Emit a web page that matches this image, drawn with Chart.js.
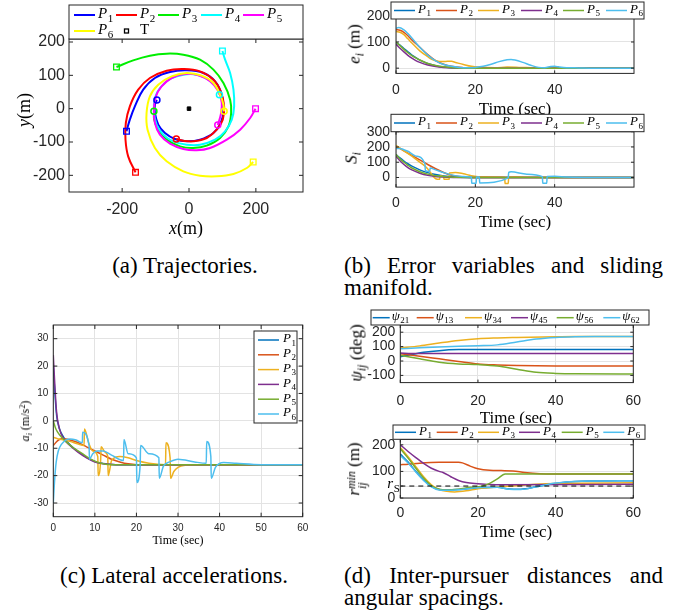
<!DOCTYPE html>
<html>
<head>
<meta charset="utf-8">
<script src="https://cdn.jsdelivr.net/npm/chart.js@4.4.1/dist/chart.umd.min.js"></script>
<style>
  body { margin: 0; background: #fff; width: 683px; height: 615px; position: relative; overflow: hidden; }
  canvas { position: absolute; }
  .lbl { position: absolute; white-space: nowrap; transform: translate(-50%, -50%); font-family: "Liberation Serif", serif; line-height: 1; color: #000; }
  .rot { transform: translate(-50%, -50%) rotate(-90deg); }
  .lbl sub { font-size: 0.7em; vertical-align: -0.3em; line-height: 0; }
  .lbl sup { font-size: 0.7em; vertical-align: 0.45em; line-height: 0; }
  .stack { display: inline-block; font-size: 0.7em; line-height: 0.85; vertical-align: -0.55em; font-style: italic; text-align: left; }
  .cap { position: absolute; font-family: "Liberation Serif", serif; font-size: 23px; line-height: 22px; color: #000; }
  .just { text-align: justify; }
</style>
</head>
<body>
<div class="cap" style="left:85px;top:255px;width:200px;text-align:center">(a) Trajectories.</div>
<div class="cap just" style="left:344px;top:255px;width:319px">(b) Error variables and sliding manifold.</div>
<div class="cap" style="left:34px;top:565px;width:280px;text-align:center">(c) Lateral accelerations.</div>
<div class="cap just" style="left:344px;top:565px;width:319px">(d) Inter-pursuer distances and angular spacings.</div>
<script>
Chart.defaults.font.family = '"Liberation Sans", Arial, sans-serif';
Chart.defaults.color = '#262626';

// ---------- (a) trajectories, metres
const p1X = [-187, -177, -162, -137, -102, -57, -7, 43, 78, 98, 103, 95, 73, 33, -7, -42, -72, -92, -102, -102, -96];
const p1Y = [-68, -33, 7, 57, 92, 110, 115, 107, 82, 42, -3, -43, -73, -93, -98, -91, -73, -48, -13, 12, 26];
const p2X = [-160, -182, -190, -189, -177, -152, -117, -67, -17, 33, 73, 95, 105, 101, 83, 53, 13, -17, -38];
const p2Y = [-191, -143, -93, -43, 7, 57, 92, 114, 119, 112, 87, 52, 7, -33, -63, -88, -98, -96, -91];
const p3X = [-217, -167, -117, -67, -17, 33, 73, 103, 123, 126, 118, 93, 53, 13, -27, -67, -92, -104, -105];
const p3Y = [125, 145, 159, 165, 162, 147, 117, 77, 27, -13, -53, -88, -111, -118, -113, -93, -63, -33, -8];
const p4X = [100, 108, 123, 133, 135, 128, 108, 78, 33, -7, -47, -77, -97, -105, -102, -87, -57, -17, 23, 58, 83, 91];
const p4Y = [173, 147, 107, 57, 7, -33, -68, -93, -108, -108, -98, -78, -48, -8, 32, 62, 89, 102, 102, 87, 62, 42];
const p5X = [199, 183, 153, 113, 63, 23, -17, -57, -87, -102, -105, -99, -82, -52, -12, 28, 63, 88, 98, 95, 86];
const p5Y = [0, -28, -63, -93, -118, -125, -121, -105, -78, -43, -3, 37, 67, 92, 104, 100, 82, 52, 17, -18, -49];
const p6X = [192, 173, 133, 83, 33, -17, -67, -102, -124, -127, -117, -92, -52, -7, 38, 73, 93, 103, 105];
const p6Y = [-160, -178, -196, -203, -201, -188, -158, -118, -63, -13, 37, 72, 97, 107, 99, 77, 42, 12, -8];
const targetX = [0];
const targetY = [0];
const trajX = [p1X, p2X, p3X, p4X, p5X, p6X];
const trajY = [p1Y, p2Y, p3Y, p4Y, p5Y, p6Y];
const trajColors = ['#0000ff', '#ff0000', '#00ee00', '#00ffff', '#ff00ff', '#ffff00'];
const ticksAx = [-200, 0, 200];
const ticksAy = [-200, -100, 0, 100, 200];

// ---------- (b) error variables e_i (m)
const eT1 = [0, 1, 2, 3, 4, 5, 6, 7, 8, 10, 12, 15, 20, 60];
const eV1 = [98, 88, 75, 62, 50, 40, 31, 24, 18, 9, 4, 1, 0, 0];
const eT2 = [0, 1, 2, 3, 4, 6, 8, 10, 12, 14, 17, 20, 60];
const eV2 = [147, 145, 137, 124, 108, 80, 52, 29, 15, 7, 2, 0, 0];
const eT3 = [0, 1, 2, 3, 4, 6, 8, 9, 10, 11, 12, 13, 14, 15, 17, 19, 21, 25, 28, 31, 35, 40, 60];
const eV3 = [140, 137, 128, 112, 96, 66, 44, 34, 28, 25, 25, 26, 26, 22, 14, 7, 4, 2, 4, 3, 1, 0, 0];
const eT4 = [0, 1, 2, 3, 4, 5, 6, 8, 10, 12, 15, 20, 60];
const eV4 = [92, 76, 62, 49, 38, 29, 22, 12, 6, 3, 1, 0, 0];
const eT5 = [0, 1, 2, 3, 4, 5, 6, 8, 10, 12, 15, 20, 60];
const eV5 = [100, 86, 72, 59, 48, 39, 31, 18, 10, 5, 1, 0, 0];
const eT6 = [0, 0.7, 2, 3, 4, 6, 8, 10, 12, 14, 16, 18, 20, 22, 24, 26, 28, 29, 30, 32, 34, 36, 37.5, 39, 40, 41, 43, 46, 50, 60];
const eV6 = [152, 155, 146, 132, 115, 80, 50, 28, 14, 7, 3, 2, 3, 7, 15, 25, 32, 33, 31, 22, 11, 3, 2, 6, 7, 5, 2, 1, 0, 0];

// ---------- (b) sliding manifold S_i
const sT1 = [0, 1, 2, 3, 4, 6, 8, 10, 12, 15, 20, 60];
const sV1 = [150, 128, 108, 90, 74, 50, 32, 19, 10, 3, 0, 0];
const sT2 = [0, 1, 2, 3, 4, 6, 8, 10, 12, 14, 16, 18, 20, 60];
const sV2 = [200, 190, 175, 160, 145, 115, 85, 57, 33, 15, 6, 2, 0, 0];
const sT3 = [0, 2, 4, 6, 7.5, 8.5, 9.3, 10, 11, 11.1, 12, 12.1, 13.4, 13.5, 15, 17, 19, 22, 27.4, 27.5, 28.3, 28.4, 30, 33, 40, 60];
const sV3 = [210, 175, 140, 100, 70, 40, 10, -8, -12, 12, 5, -12, -12, 30, 33, 24, 12, 4, 2, -40, -40, 3, 5, 2, 0, 0];
const sT4 = [0, 1, 2, 3, 4, 6, 8, 10, 12, 15, 60];
const sV4 = [140, 110, 85, 65, 50, 28, 14, 7, 3, 0, 0];
const sT5 = [0, 1, 2, 3, 4, 6, 8, 10, 12, 15, 20, 60];
const sV5 = [150, 122, 100, 80, 62, 38, 22, 12, 6, 1, 0, 0];
const sT6 = [0, 1, 2, 3, 5, 7.3, 7.4, 8.5, 8.6, 10, 12, 14, 17, 19, 19.1, 20.2, 20.3, 21, 21.1, 28.3, 28.4, 29, 33, 36.9, 37, 38, 38.1, 40, 43, 50, 60];
const sV6 = [190, 190, 182, 172, 140, 90, 45, 40, 62, 50, 32, 17, 6, 3, -38, -38, 3, 3, -36, -3, 34, 37, 22, 6, -38, -38, 6, 8, 3, 0, 0];

// ---------- (c) lateral accelerations a_i (m/s^2)
const aT1 = [0, 0.3, 0.8, 1.5, 2.5, 4, 6, 8, 10, 12, 15, 60];
const aV1 = [20, 12, 2, -3, -6, -8.7, -11.2, -13.3, -14.8, -15.6, -16, -16];
const aT2 = [0, 1, 2, 3, 4, 6, 8, 10, 12, 14, 16, 18, 20, 60];
const aV2 = [-9, -7.3, -6.5, -6.6, -7, -8, -9.5, -11, -12.5, -14, -15, -15.7, -16, -16];
const aT3 = [0, 1, 2, 4, 6, 7.4, 7.5, 8.5, 9.5, 10.7, 10.8, 11.4, 11.5, 12.5, 13.1, 13.2, 13.8, 14, 16, 18, 20, 23, 27, 27.1, 28.1, 28.2, 29, 30, 32, 35, 60];
const aV3 = [-6, -6.5, -6.8, -7.5, -8.5, -9, -3, -8, -11, -13, -20, -14, -9.5, -11.5, -13, -20, -16, -14.5, -13, -13.5, -14.5, -15.5, -16, -8, -13.5, -21, -18.5, -17, -16.2, -16, -16];
const aT4 = [0, 0.3, 0.8, 1.5, 2.5, 4, 6, 8, 10, 12, 15, 60];
const aV4 = [24, 15, 3, -3, -6.5, -9, -11.5, -13.5, -15, -15.7, -16, -16];
const aT5 = [0, 0.5, 1, 2, 3, 5, 7, 9, 11, 14, 60];
const aV5 = [0, -2.5, -4, -6, -7.5, -10, -12, -14, -15.3, -16, -16];
const aT6 = [0, 0.3, 0.7, 1.2, 2, 3, 4, 5.5, 7, 7.05, 8.6, 8.7, 9.5, 10.5, 12, 14, 16.9, 17, 18, 20, 20.1, 20.9, 21, 23, 25.4, 25.5, 26.5, 28, 30, 34, 36.8, 36.9, 37.9, 38, 39, 41, 44, 50, 60];
const aV6 = [-30, -22, -15, -11, -8.5, -7, -6.6, -7, -8, -4.2, -9, -14, -12, -11, -11, -12.5, -14.5, -6.8, -12, -13.5, -22.5, -16, -9, -12, -13.5, -21, -16.5, -15, -14, -15, -15.5, -7.5, -13, -21, -17, -15.2, -15.5, -16, -16];

// ---------- (d) angular spacings psi_ij (deg)
const psiT21 = [0, 3, 6, 10, 15, 20, 60];
const psiV21 = [30, 45, 60, 72, 79, 80, 80];
const psiT13 = [0, 5, 10, 15, 20, 25, 30, 40, 60];
const psiV13 = [50, 33, 15, -3, -20, -27, -31, -34, -35];
const psiT34 = [0, 5, 10, 15, 20, 25, 30, 40, 45, 60];
const psiV34 = [90, 105, 125, 143, 155, 160, 163, 168, 170, 170];
const psiT45 = [0, 3, 60];
const psiV45 = [55, 52, 52];
const psiT56 = [0, 5, 10, 15, 20, 25, 30, 35, 40, 45, 60];
const psiV56 = [40, 15, -8, -20, -25, -35, -57, -78, -86, -89, -90];
const psiT62 = [0, 5, 10, 15, 20, 25, 30, 35, 40, 45, 50, 60];
const psiV62 = [85, 92, 97, 102, 106, 112, 132, 152, 163, 168, 170, 170];

// ---------- (d) minimum inter-pursuer distances r_ij^min (m)
const rT1 = [0, 2, 4, 6, 8, 10, 12, 15, 20, 25, 28, 31, 35, 40, 45, 50, 60];
const rV1 = [165, 135, 100, 68, 44, 32, 30, 32, 38, 40, 34, 33, 42, 55, 62, 64, 65];
const rT2 = [0, 2, 5, 10, 15, 16, 18, 20, 23, 26, 29, 32, 36, 40, 60];
const rV2 = [125, 127, 131, 134, 134, 132, 120, 110, 104, 103, 102, 96, 91, 90, 90];
const rT3 = [0, 2, 4, 6, 8, 10, 12, 14, 17, 20, 25, 30, 35, 40, 60];
const rV3 = [190, 155, 118, 80, 50, 32, 25, 23, 27, 35, 42, 46, 52, 55, 57];
const rT4 = [0, 2, 4, 6, 8, 10, 11, 13, 15, 17, 20, 23, 26, 60];
const rV4 = [200, 175, 152, 130, 112, 100, 96, 80, 66, 58, 54, 51, 50, 52];
const rT5 = [0, 2, 4, 6, 8, 10, 12, 15, 18, 21, 23, 25, 27, 60];
const rV5 = [185, 150, 112, 75, 46, 33, 30, 33, 40, 44, 55, 72, 90, 90];
const rT6 = [0, 2, 4, 6, 8, 10, 12, 15, 20, 25, 28, 31, 35, 40, 45, 50, 60];
const rV6 = [160, 132, 98, 66, 42, 30, 29, 31, 39, 40, 33, 32, 42, 56, 62, 64, 65];
const rsLevel = 45;

const matlab = ['#0072BD', '#D95319', '#EDB120', '#7E2F8E', '#77AC30', '#4DBEEE'];
const pNames = ['P_1', 'P_2', 'P_3', 'P_4', 'P_5', 'P_6'];
const psiNames = ['ψ_21', 'ψ_13', 'ψ_34', 'ψ_45', 'ψ_56', 'ψ_62'];
const ticksTime20 = [0, 20, 40];
const ticksTime60 = [0, 20, 40, 60];
const ticksTime10 = [0, 10, 20, 30, 40, 50, 60];
const ticksE = [0, 100, 200];
const ticksS = [0, 100, 200, 300];
const ticksA = [-30, -20, -10, 0, 10, 20, 30];
const ticksPsi = [-100, 0, 100, 200];
const ticksR = [0, rsLevel, 100, 200];

// italic letter with an upright subscript, e.g. "P_1"
function drawLabel(ctx, txt, x, y, size) {
  const [main, sub] = txt.split('_');
  ctx.textBaseline = 'middle';
  ctx.textAlign = 'left';
  ctx.fillStyle = '#000';
  ctx.font = (main === 'T' ? '' : 'italic ') + size + 'px "Liberation Serif"';
  ctx.fillText(main, x, y - 1);
  let w = ctx.measureText(main).width;
  if (sub) {
    ctx.font = Math.round(size * 0.72) + 'px "Liberation Serif"';
    ctx.fillText(sub, x + w + 0.5, y + size * 0.25);
    w += 0.5 + ctx.measureText(sub).width;
  }
  return w;
}

const boxLegend = {
  id: 'boxLegend',
  afterDraw(chart, args, o) {
    if (!o.items) return;
    const ctx = chart.ctx;
    const ox = o.ox, oy = o.oy;
    ctx.save();
    ctx.fillStyle = '#fff';
    ctx.fillRect(o.x - ox, o.y - oy, o.w, o.h);
    ctx.strokeStyle = '#262626';
    ctx.lineWidth = 1;
    ctx.strokeRect(o.x - ox, o.y - oy, o.w, o.h);
    o.items.forEach(it => {
      const x = it.x - ox, y = it.y - oy;
      if (it.marker) {
        ctx.strokeStyle = it.color;
        ctx.lineWidth = 1.3;
        ctx.strokeRect(x + o.len / 2 - 2, y - 2, 4, 4);
      } else {
        ctx.strokeStyle = it.color;
        ctx.lineWidth = o.lw;
        ctx.beginPath();
        ctx.moveTo(x, y);
        ctx.lineTo(x + o.len, y);
        ctx.stroke();
      }
      drawLabel(ctx, it.label, x + o.len + o.gap, y, o.size);
    });
    ctx.restore();
  }
};

// axes box with inward ticks, plus the r_S tick label
const frame = {
  id: 'frame',
  afterDatasetsDraw(chart, args, o) {
    const { ctx, chartArea: a, scales } = chart;
    const L = o.tick || 3;
    ctx.save();
    ctx.strokeStyle = '#262626';
    ctx.lineWidth = 1;
    ctx.strokeRect(a.left, a.top, a.right - a.left, a.bottom - a.top);
    ctx.beginPath();
    scales.x.ticks.forEach(t => {
      const px = scales.x.getPixelForValue(t.value);
      ctx.moveTo(px, a.bottom); ctx.lineTo(px, a.bottom - L);
      ctx.moveTo(px, a.top); ctx.lineTo(px, a.top + L);
    });
    scales.y.ticks.forEach(t => {
      const py = scales.y.getPixelForValue(t.value);
      ctx.moveTo(a.left, py); ctx.lineTo(a.left + L, py);
      ctx.moveTo(a.right, py); ctx.lineTo(a.right - L, py);
    });
    ctx.stroke();
    if (o.rs != null) {
      drawLabel(ctx, 'r_S', a.left - 13, scales.y.getPixelForValue(o.rs) - 1, 15);
    }
    ctx.restore();
  }
};

function toPoints(t, v) {
  return t.map((x, k) => ({ x, y: v[k] }));
}

function lineSet(t, v, color, i, lw) {
  return {
    data: toPoints(t, v), borderColor: color, borderWidth: lw, showLine: true,
    pointRadius: 0, cubicInterpolationMode: 'monotone', order: 10 - i
  };
}

function legendItems(names, xs, ys, colors) {
  return names.map((n, i) => ({ label: n, x: xs[i], y: Array.isArray(ys) ? ys[i] : ys, color: colors[i] }));
}

function makeChart(box, area, xs, ys, datasets, legend, frameOpt) {
  const cv = document.createElement('canvas');
  cv.width = box.w; cv.height = box.h;
  cv.style.left = box.l + 'px'; cv.style.top = box.t + 'px';
  document.body.appendChild(cv);
  const gridColor = '#e3e3e3';
  const axis = (s, fit) => ({
    type: 'linear', min: s.min, max: s.max,
    afterFit: fit,
    afterBuildTicks: sc => { sc.ticks = s.ticks.map(v => ({ value: v })); },
    grid: { display: !!s.grid, color: gridColor, drawTicks: false },
    border: { display: false },
    ticks: {
      padding: s.pad, font: { size: s.size }, color: '#262626', maxRotation: 0, autoSkip: false,
      callback: s.cb || (v => String(v))
    }
  });
  legend.ox = box.l; legend.oy = box.t;
  return new Chart(cv, {
    type: 'scatter',
    data: { datasets },
    options: {
      responsive: false, animation: false, devicePixelRatio: 1,
      layout: { padding: { top: area.t - box.t, right: box.l + box.w - area.r, left: 0, bottom: 0 } },
      plugins: { legend: { display: false }, tooltip: { enabled: false }, boxLegend: legend, frame: frameOpt || {} },
      scales: {
        x: axis(xs, sc => { sc.height = box.t + box.h - area.b; sc.paddingLeft = 0; sc.paddingRight = 0; }),
        y: axis(ys, sc => { sc.width = area.l - box.l; sc.paddingTop = 0; sc.paddingBottom = 0; })
      }
    },
    plugins: [boxLegend, frame]
  });
}

function addText(html, cx, cy, size, rotate) {
  const d = document.createElement('div');
  d.className = 'lbl' + (rotate ? ' rot' : '');
  d.style.left = cx + 'px'; d.style.top = cy + 'px'; d.style.fontSize = size + 'px';
  d.innerHTML = html;
  document.body.appendChild(d);
}

// ---------- (a)
const trajSets = [];
trajX.forEach((xs, i) => {
  const ys = trajY[i];
  trajSets.push({ data: toPoints(xs, ys), borderColor: trajColors[i], borderWidth: 2, showLine: true, pointRadius: 0, tension: 0.4, order: 10 - i });
  trajSets.push({ data: [{ x: xs[0], y: ys[0] }], pointStyle: 'rect', pointRadius: 4, pointBorderWidth: 1.3,
    borderColor: trajColors[i], backgroundColor: 'rgba(0,0,0,0)', showLine: false, order: -1 });
  trajSets.push({ data: [{ x: xs[xs.length - 1], y: ys[ys.length - 1] }], pointStyle: 'circle', pointRadius: 3, pointBorderWidth: 1.5,
    borderColor: trajColors[i], backgroundColor: 'rgba(0,0,0,0)', showLine: false, order: -1 });
});
trajSets.push({ data: toPoints(targetX, targetY), pointStyle: 'rect', pointRadius: 2.5, borderColor: '#000', backgroundColor: '#000', showLine: false, order: -2 });

const legA = {
  x: 69, y: 5, w: 234, h: 34, size: 15, len: 21, gap: 3, lw: 2,
  items: legendItems(pNames.slice(0, 5), [74, 116, 158, 201, 243], 15, trajColors)
    .concat([{ label: 'P_6', x: 74, y: 31, color: trajColors[5] }, { label: 'T', x: 116, y: 31, color: '#000', marker: true }])
};
makeChart({ l: 0, t: 0, w: 330, h: 245 }, { l: 69, t: 39, r: 303, b: 192 },
  { min: -359, max: 341, ticks: ticksAx, pad: 8, size: 16 },
  { min: -250, max: 209, ticks: ticksAy, pad: 4, size: 16 },
  trajSets, legA, { tick: 4 });
addText('<i>x</i>(m)', 186, 228, 18, false);
addText('<i>y</i>(m)', 24, 110, 18, true);

// ---------- (b) e_i
const eSets = [[eT1, eV1], [eT2, eV2], [eT3, eV3], [eT4, eV4], [eT5, eV5], [eT6, eV6]]
  .map((s, i) => lineSet(s[0], s[1], matlab[i], i, 1.5));
makeChart({ l: 330, t: 0, w: 353, h: 112 }, { l: 396, t: 14.5, r: 634, b: 73.4 },
  { min: 0, max: 60, ticks: ticksTime20, pad: 8, size: 14, grid: true },
  { min: -20, max: 205, ticks: ticksE, pad: 6, size: 14, grid: true },
  eSets, { x: 391, y: 2, w: 253, h: 17, size: 13, len: 21, gap: 3, lw: 1.5,
    items: legendItems(pNames, [394, 436, 478, 521, 563, 606], 10.5, matlab) });
addText('Time (sec)', 515, 108, 17, false);
addText('<i>e<sub>i</sub></i> (m)', 354, 44, 17, true);

// ---------- (b) S_i
const sSets = [[sT1, sV1], [sT2, sV2], [sT3, sV3], [sT4, sV4], [sT5, sV5], [sT6, sV6]]
  .map((s, i) => lineSet(s[0], s[1], matlab[i], i, 1.5));
makeChart({ l: 330, t: 112, w: 353, h: 100 }, { l: 396, t: 131.7, r: 634, b: 187.1 },
  { min: 0, max: 60, ticks: ticksTime20, pad: 8, size: 14, grid: true },
  { min: -63, max: 300, ticks: ticksS, pad: 6, size: 14, grid: true },
  sSets, { x: 391, y: 114.3, w: 253, h: 17.4, size: 13, len: 21, gap: 3, lw: 1.5,
    items: legendItems(pNames, [394, 436, 478, 521, 563, 606], 123, matlab) });
addText('Time (sec)', 515, 221, 17, false);
addText('<i>S<sub>i</sub></i>', 351, 158, 17, true);

// ---------- (c) a_i
const aSets = [[aT1, aV1], [aT2, aV2], [aT3, aV3], [aT4, aV4], [aT5, aV5], [aT6, aV6]]
  .map((s, i) => lineSet(s[0], s[1], matlab[i], i, 1.5));
makeChart({ l: 0, t: 310, w: 330, h: 235 }, { l: 53.3, t: 325, r: 302.7, b: 516.7 },
  { min: 0, max: 60, ticks: ticksTime10, pad: 6, size: 10, grid: true },
  { min: -35, max: 35, ticks: ticksA, pad: 5, size: 10, grid: true },
  aSets, { x: 254, y: 331, w: 43, h: 92, size: 13, len: 21, gap: 4, lw: 1.5,
    items: legendItems(pNames, [258, 258, 258, 258, 258, 258], [340, 354.8, 369.6, 384.4, 399.2, 414], matlab) },
  { tick: 4 });
addText('Time (sec)', 178, 540, 12, false);
addText('<i>a<sub>i</sub></i> (m/s<sup>2</sup>)', 25, 421, 12, true);

// ---------- (d) psi_ij
const psiSets = [[psiT21, psiV21], [psiT13, psiV13], [psiT34, psiV34], [psiT45, psiV45], [psiT56, psiV56], [psiT62, psiV62]]
  .map((s, i) => lineSet(s[0], s[1], matlab[i], i, 1.5));
makeChart({ l: 330, t: 305, w: 353, h: 110 }, { l: 400.3, t: 325, r: 633.3, b: 382.6 },
  { min: 0, max: 60, ticks: ticksTime60, pad: 10, size: 14, grid: true },
  { min: -150, max: 250, ticks: ticksPsi, pad: 5, size: 14, grid: true },
  psiSets, { x: 371, y: 310, w: 278, h: 15, size: 13, len: 17, gap: 2, lw: 1.5,
    items: legendItems(psiNames, [372.7, 416.7, 465, 511, 556.7, 603.3], 317.7, matlab) });
addText('Time (sec)', 516, 417, 17, false);
addText('<i>ψ<sub>ij</sub></i> (deg)', 356, 353, 17, true);

// ---------- (d) r_ij^min
const rSets = [[rT1, rV1], [rT2, rV2], [rT3, rV3], [rT4, rV4], [rT5, rV5], [rT6, rV6]]
  .map((s, i) => lineSet(s[0], s[1], matlab[i], i, 1.5));
rSets.push({ data: [{ x: 0, y: rsLevel }, { x: 60, y: rsLevel }], borderColor: '#000', borderWidth: 1, borderDash: [5, 4],
  showLine: true, pointRadius: 0, order: -1 });
makeChart({ l: 330, t: 420, w: 353, h: 100 }, { l: 400.3, t: 439.5, r: 633.3, b: 498 },
  { min: 0, max: 60, ticks: ticksTime60, pad: 7, size: 14, grid: true },
  { min: 0, max: 220, ticks: ticksR, pad: 5, size: 14, grid: true, cb: v => (v === rsLevel ? '' : String(v)) },
  rSets, { x: 393, y: 425, w: 252, h: 14.3, size: 13, len: 21, gap: 3, lw: 1.5,
    items: legendItems(pNames, [395, 436.7, 478, 519, 561.7, 603.3], 432.3, matlab) },
  { rs: rsLevel });
addText('Time (sec)', 516, 531, 17, false);
addText('<i>r</i><span class="stack">min<br>ij</span> (m)', 356, 469, 17, true);
</script>
</body>
</html>
